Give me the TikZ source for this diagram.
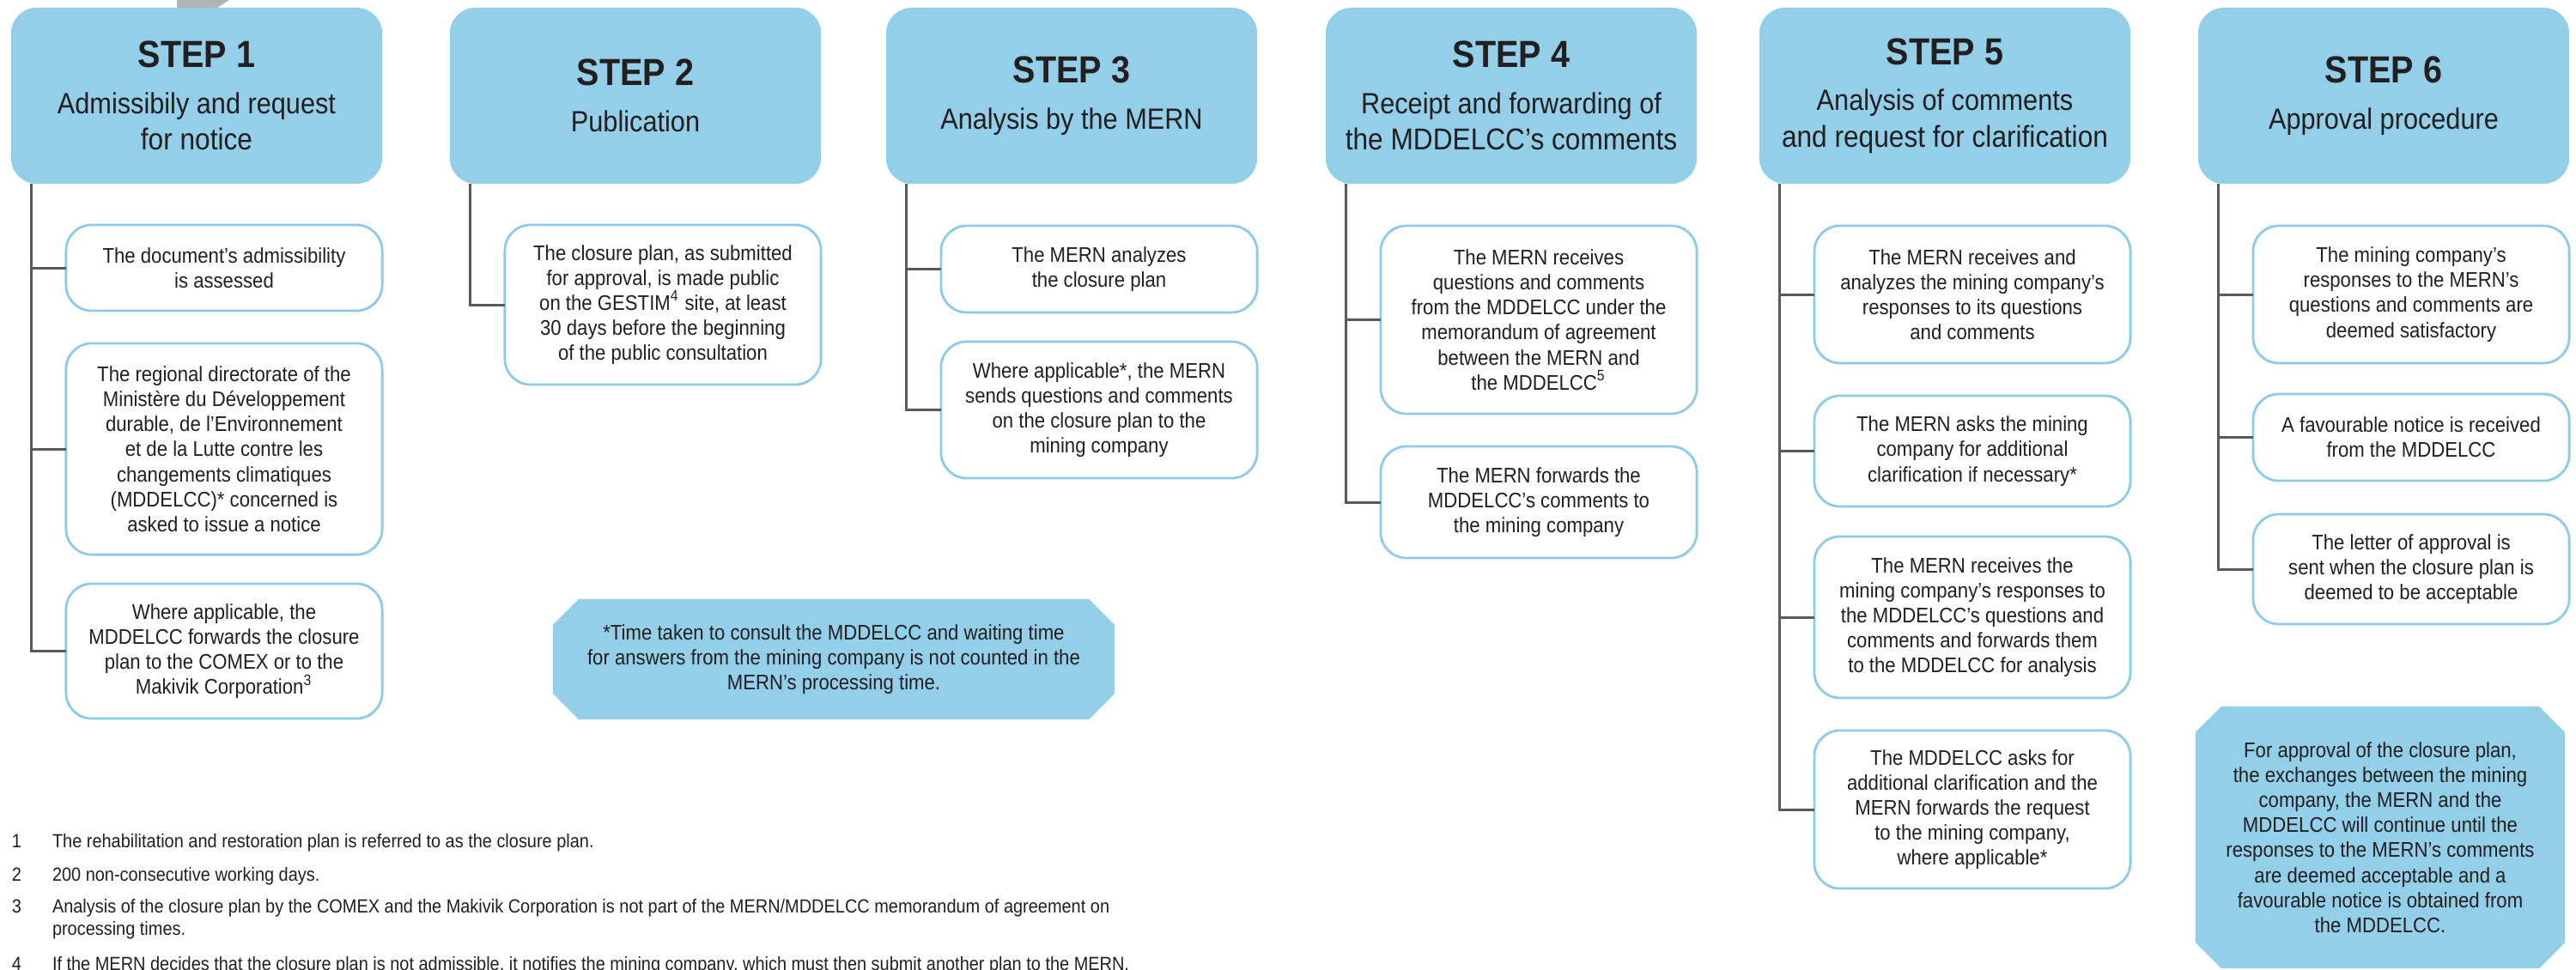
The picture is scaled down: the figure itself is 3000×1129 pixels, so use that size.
\documentclass[tikz,border=0pt]{standalone}
\usepackage{fontspec}
\setmainfont{Liberation Sans}[FakeStretch=0.9]
\definecolor{hdrblue}{HTML}{93CFE8}
\definecolor{bordblue}{HTML}{8DCBE6}
\definecolor{lngray}{HTML}{58595B}
\definecolor{txt}{HTML}{231F20}
\definecolor{arrgray}{HTML}{B3B3B3}
\pgfdeclarelayer{bottom}
\pgfdeclarelayer{background}
\pgfsetlayers{bottom,background,main}
\tikzset{
  header/.style={fill=hdrblue, draw=none, rounded corners=0.3cm, minimum width=4.32cm,
    minimum height=2.05cm, align=center, text=txt, inner sep=0pt, outer sep=0pt},
  subbox/.style={draw=bordblue, line width=0.8pt, fill=white, rounded corners=0.3cm,
    minimum width=3.68cm, align=center, text=txt, inner sep=0pt, outer sep=0pt,
    font=\fontsize{7}{8.3}\selectfont},
  conn/.style={draw=lngray, line width=0.85pt},
  notetext/.style={align=center, text=txt, inner sep=0pt, outer sep=0pt,
    font=\fontsize{7}{8.3}\selectfont},
  notefill/.style={fill=hdrblue, draw=none},
  fnote/.style={anchor=base west, text=txt, inner sep=0pt, outer sep=0pt,
    font=\fontsize{6.3}{7.4}\selectfont},
}
\newcommand\stepttl[1]{\fontsize{12.5}{14}\selectfont\bfseries STEP #1\\[3.2pt]\fontsize{9.7}{11}\selectfont\mdseries}
\newcommand\chamfill[1]{%
  \fill[notefill] ([xshift=0.3cm]#1.north west) -- ([xshift=-0.3cm]#1.north east)
    -- ([yshift=-0.3cm]#1.north east) -- ([yshift=0.3cm]#1.south east)
    -- ([xshift=-0.3cm]#1.south east) -- ([xshift=0.3cm]#1.south west)
    -- ([yshift=0.3cm]#1.south west) -- ([yshift=-0.3cm]#1.north west) -- cycle;}
\begin{document}
\begin{tikzpicture}[x=0.01cm, y=-0.01cm]
\useasboundingbox (0,0) rectangle (3000,1129);
\begin{pgfonlayer}{bottom}
\fill[white] (0,0) rectangle (3000,1129);
% gray arrow fragment behind step 1
\fill[arrgray] (206,-2) -- (206,15) -- (244,15) -- (270,-2) -- cycle;
\end{pgfonlayer}

% headers
\node[header] (h1) at (229,111.5) {\stepttl{1}Admissibily and request\\for notice};
\node[header] (h2) at (740,111.5) {\stepttl{2}Publication};
\node[header] (h3) at (1248,111.5) {\stepttl{3}Analysis by the MERN};
\node[header] (h4) at (1760,111.5) {\stepttl{4}Receipt and forwarding of\\the MDDELCC’s comments};
\node[header] (h5) at (2265,111.5) {\stepttl{5}Analysis of comments\\and request for clarification};
\node[header] (h6) at (2776,111.5) {\stepttl{6}Approval procedure};

% step 1
\node[subbox, minimum height=1.00cm] (s1a) at (261,312) {The document’s admissibility\\is assessed};
\node[subbox, minimum height=2.46cm] (s1b) at (261,523) {The regional directorate of the\\Ministère du Développement\\durable, de l’Environnement\\et de la Lutte contre les\\changements climatiques\\(MDDELCC)* concerned is\\asked to issue a notice};
\node[subbox, minimum height=1.57cm] (s1c) at (261,758.5) {Where applicable, the\\MDDELCC forwards the closure\\plan to the COMEX or to the\\Makivik Corporation\textsuperscript{3}};
% step 2
\node[subbox, minimum height=1.86cm] (s2a) at (772,355) {The closure plan, as submitted\\for approval, is made public\\on the GESTIM\textsuperscript{4} site, at least\\30 days before the beginning\\of the public consultation};
% step 3
\node[subbox, minimum height=1.01cm] (s3a) at (1280,313.5) {The MERN analyzes\\the closure plan};
\node[subbox, minimum height=1.59cm] (s3b) at (1280,477.5) {Where applicable*, the MERN\\sends questions and comments\\on the closure plan to the\\mining company};
% step 4
\node[subbox, minimum height=2.19cm] (s4a) at (1792,372.5) {The MERN receives\\questions and comments\\from the MDDELCC under the\\memorandum of agreement\\between the MERN and\\the MDDELCC\textsuperscript{5}};
\node[subbox, minimum height=1.30cm] (s4b) at (1792,585) {The MERN forwards the\\MDDELCC’s comments to\\the mining company};
% step 5
\node[subbox, minimum height=1.60cm] (s5a) at (2297,343) {The MERN receives and\\analyzes the mining company’s\\responses to its questions\\and comments};
\node[subbox, minimum height=1.29cm] (s5b) at (2297,525.5) {The MERN asks the mining\\company for additional\\clarification if necessary*};
\node[subbox, minimum height=1.88cm] (s5c) at (2297,719) {The MERN receives the\\mining company’s responses to\\the MDDELCC’s questions and\\comments and forwards them\\to the MDDELCC for analysis};
\node[subbox, minimum height=1.84cm] (s5d) at (2297,943) {The MDDELCC asks for\\additional clarification and the\\MERN forwards the request\\to the mining company,\\where applicable*};
% step 6
\node[subbox, minimum height=1.60cm] (s6a) at (2808,343) {The mining company’s\\responses to the MERN’s\\questions and comments are\\deemed satisfactory};
\node[subbox, minimum height=1.01cm] (s6b) at (2808,509.5) {A favourable notice is received\\from the MDDELCC};
\node[subbox, minimum height=1.28cm] (s6c) at (2808,663) {The letter of approval is\\sent when the closure plan is\\deemed to be acceptable};

% connectors
\foreach \h/\s in {h1/s1a, h1/s1b, h1/s1c, h2/s2a, h3/s3a, h3/s3b, h4/s4a, h4/s4b,
                   h5/s5a, h5/s5b, h5/s5c, h5/s5d, h6/s6a, h6/s6b, h6/s6c}
  \draw[conn] ([xshift=0.24cm]\h.south west) |- (\s.west);

% notes
\node[notetext, minimum width=6.54cm, minimum height=1.40cm] (n1) at (971,768)
  {*Time taken to consult the MDDELCC and waiting time\\for answers from the mining company is not counted in the\\MERN’s processing time.};
\node[notetext, minimum width=4.30cm, minimum height=3.05cm] (n2) at (2772,975.5)
  {For approval of the closure plan,\\the exchanges between the mining\\company, the MERN and the\\MDDELCC will continue until the\\responses to the MERN’s comments\\are deemed acceptable and a\\favourable notice is obtained from\\the MDDELCC.};
\begin{pgfonlayer}{background}
\chamfill{n1}
\chamfill{n2}
\end{pgfonlayer}

% footnotes
\node[fnote] (f1n) at (14,987) {1};
\node[fnote] (f1t) at (61,987) {The rehabilitation and restoration plan is referred to as the closure plan.};
\node[fnote] (f2n) at (14,1026) {2};
\node[fnote] (f2t) at (61,1026) {200 non-consecutive working days.};
\node[fnote] (f3n) at (14,1063) {3};
\node[fnote] (f3t) at (61,1063) {Analysis of the closure plan by the COMEX and the Makivik Corporation is not part of the MERN/MDDELCC memorandum of agreement on};
\node[fnote] (f3u) at (61,1089) {processing times.};
\node[fnote] (f4n) at (14,1130) {4};
\node[fnote] (f4t) at (61,1130) {If the MERN decides that the closure plan is not admissible, it notifies the mining company, which must then submit another plan to the MERN.};
\end{tikzpicture}
\end{document}
